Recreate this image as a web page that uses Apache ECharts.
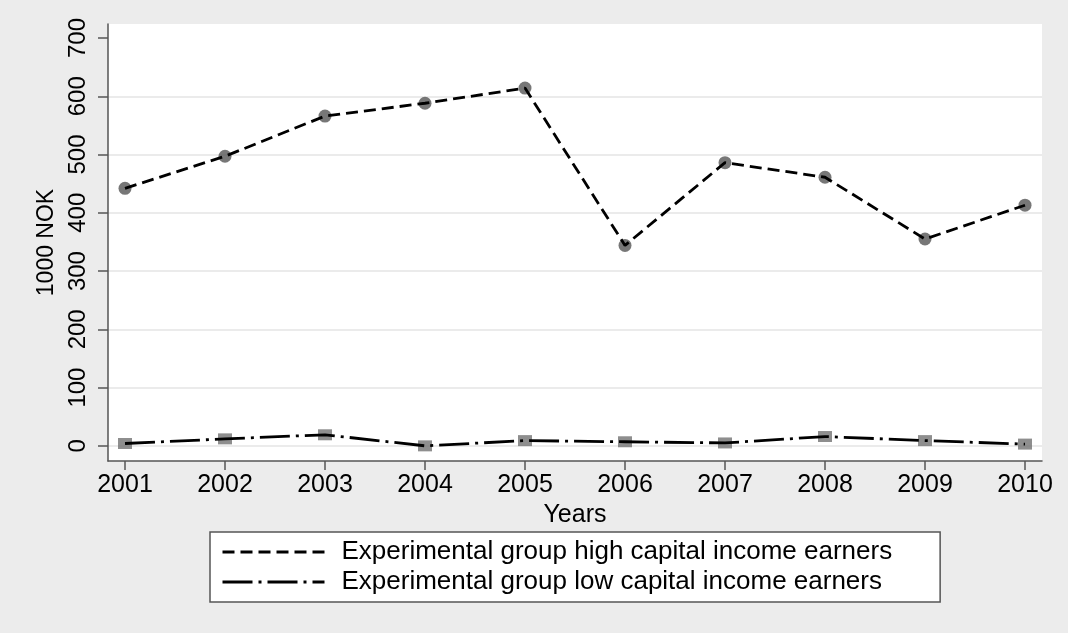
<!DOCTYPE html>
<html>
<head>
<meta charset="utf-8">
<script src="https://cdn.jsdelivr.net/npm/echarts@6/dist/echarts.min.js"></script>
<style>
  html, body { margin: 0; padding: 0; background: #ececec; }
  #chart { width: 1068px; height: 633px; }
</style>
</head>
<body>
<div id="chart"></div>
<script>
const years = [2001, 2002, 2003, 2004, 2005, 2006, 2007, 2008, 2009, 2010]
const highEarners = [442, 497, 566, 588, 614, 344, 486, 461, 355, 413]
const lowEarners = [4, 12, 19, 0, 9, 7, 5, 16, 9, 3]
const yTicks = [0, 100, 200, 300, 400, 500, 600, 700]

const highName = 'Experimental group high capital income earners'
const lowName = 'Experimental group low capital income earners'
const font = 'Liberation Sans, Arial, sans-serif'

const pairs = (vals) => years.map((y, i) => [y, vals[i]])

const chart = echarts.init(document.getElementById('chart'))
chart.setOption({
  backgroundColor: '#ececec',
  animation: false,
  textStyle: { fontFamily: font, color: '#000' },
  grid: {
    left: 108, right: 26, top: 24, bottom: 172,
    show: true, backgroundColor: '#fff', borderWidth: 0
  },
  legend: {
    data: [highName, lowName],
    orient: 'vertical',
    left: 210,
    top: 532,
    padding: [7, 48, 7, 11],
    itemWidth: 102,
    itemHeight: 14,
    itemGap: 4,
    backgroundColor: '#fff',
    borderColor: '#555',
    borderWidth: 1.5,
    borderRadius: 0,
    itemStyle: { opacity: 0 },
    lineStyle: { width: 3 },
    textStyle: { fontSize: 26, lineHeight: 26, color: '#000', fontFamily: font, padding: [0, 0, 0, 12] }
  },
  xAxis: {
    type: 'value',
    min: 2000.83,
    max: 2010.17,
    name: 'Years',
    nameLocation: 'middle',
    nameGap: 34,
    nameTextStyle: { fontSize: 25, color: '#000' },
    axisLine: { onZero: false, lineStyle: { color: '#555', width: 1.5 } },
    axisTick: { customValues: years, length: 9, lineStyle: { color: '#555', width: 1.5 } },
    axisLabel: {
      customValues: years, fontSize: 25, margin: 12, color: '#000',
      formatter: (v) => String(v)
    },
    splitLine: { show: false }
  },
  yAxis: {
    type: 'value',
    min: -26,
    max: 724,
    name: '1000 NOK',
    nameLocation: 'middle',
    nameGap: 41,
    nameTextStyle: { fontSize: 23, color: '#000' },
    axisLine: { show: true, lineStyle: { color: '#555', width: 1.5 } },
    axisTick: { show: true, customValues: yTicks, length: 10, lineStyle: { color: '#555', width: 1.5 } },
    axisLabel: { customValues: yTicks, rotate: 90, fontSize: 24, margin: 18, color: '#000' },
    splitLine: {
      show: true,
      lineStyle: {
        color: ['#e4e4e4', '#e4e4e4', '#e4e4e4', '#e4e4e4', '#e4e4e4', '#e4e4e4', '#e4e4e4', 'rgba(0,0,0,0)'],
        width: 1.5
      }
    }
  },
  series: [
    {
      name: 'high-marks',
      type: 'scatter',
      symbol: 'circle',
      symbolSize: 13,
      itemStyle: { color: '#555' },
      z: 2,
      data: pairs(highEarners)
    },
    {
      name: 'low-marks',
      type: 'scatter',
      symbol: 'rect',
      symbolSize: [14, 11],
      itemStyle: { color: '#727272' },
      z: 2,
      data: pairs(lowEarners)
    },
    {
      name: highName,
      type: 'line',
      showSymbol: false,
      symbol: 'none',
      z: 3,
      itemStyle: { color: '#000' },
      lineStyle: { color: '#000', width: 2.8, type: [12, 6] },
      data: pairs(highEarners)
    },
    {
      name: lowName,
      type: 'line',
      showSymbol: false,
      symbol: 'none',
      z: 3,
      itemStyle: { color: '#000' },
      lineStyle: { color: '#000', width: 2.8, type: [30, 6, 3, 6] },
      data: pairs(lowEarners)
    }
  ]
})
</script>
</body>
</html>
